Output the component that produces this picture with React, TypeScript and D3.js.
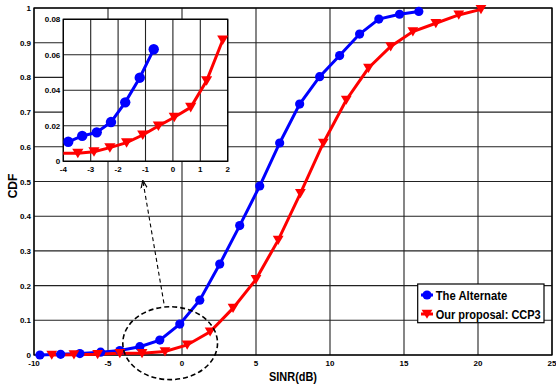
import React from 'react';
import * as d3 from 'd3';

// main curves
const altX = [-9.6, -8.2, -6.9, -5.5, -4.2, -2.85, -1.5, -0.15, 1.2, 2.55, 3.9, 5.25, 6.6, 7.95, 9.3, 10.65, 12.0, 13.3, 14.7, 16.0];
const altY = [0, 0.002, 0.004, 0.008, 0.013, 0.024, 0.043, 0.089, 0.158, 0.262, 0.373, 0.487, 0.611, 0.723, 0.802, 0.863, 0.925, 0.968, 0.982, 0.99];
const ccpX = [-8.8, -7.3, -5.7, -4.2, -2.7, -1.15, 0.35, 1.9, 3.45, 5.0, 6.5, 8.0, 9.55, 11.1, 12.6, 14.1, 15.6, 17.15, 18.7, 20.2];
const ccpY = [0, 0.001, 0.002, 0.005, 0.005, 0.01, 0.029, 0.067, 0.135, 0.218, 0.331, 0.466, 0.611, 0.735, 0.827, 0.889, 0.932, 0.956, 0.98, 0.996];

// zoomed inset
const insetAltX = [-3.82, -3.31, -2.78, -2.26, -1.74, -1.21, -0.7];
const insetAltY = [0.011, 0.0143, 0.0163, 0.0221, 0.0332, 0.0471, 0.0631];
const insetCcpX = [-4.1, -3.47, -2.88, -2.3, -1.69, -1.1, -0.53, 0.05, 0.65, 1.23, 1.82];
const insetCcpY = [0.0046, 0.0045, 0.0054, 0.0077, 0.0105, 0.0148, 0.0199, 0.0248, 0.0304, 0.0454, 0.0683];

const xTicks = [-10, -5, 0, 5, 10, 15, 20, 25];
const yTicks = [0, 0.1, 0.2, 0.3, 0.4, 0.5, 0.6, 0.7, 0.8, 0.9, 1];
const insetXTicks = [-4, -3, -2, -1, 0, 1, 2];
const insetYTicks = [0, 0.02, 0.04, 0.06, 0.08];

const seriesNames = ['The Alternate', 'Our proposal: CCP3'];
const BLUE = '#0000ff';
const RED = '#ff0000';
const FONT = 'Liberation Sans, Arial, sans-serif';

const zip = (xs: number[], ys: number[]) => xs.map((x, i) => [x, ys[i]] as [number, number]);

function tri(cx: number, cy: number, s: number) {
  return `M${cx - s},${cy - s * 0.8}L${cx + s},${cy - s * 0.8}L${cx},${cy + s * 0.9}Z`;
}

export default function App() {
  const W = 556, H = 387;
  const x = d3.scaleLinear().domain([-10, 25]).range([34, 552]);
  const y = d3.scaleLinear().domain([0, 1]).range([355, 8]);
  const ix = d3.scaleLinear().domain([-4, 2]).range([63.3, 227.7]);
  const iy = d3.scaleLinear().domain([0, 0.08]).range([161.3, 19.3]);

  const line = d3.line<[number, number]>().x(d => x(d[0])).y(d => y(d[1]));
  const iline = d3.line<[number, number]>().x(d => ix(d[0])).y(d => iy(d[1]));

  const alt = zip(altX, altY);
  const ccp = zip(ccpX, ccpY);
  const iAlt = zip(insetAltX, insetAltY);
  const iCcp = zip(insetCcpX, insetCcpY);
  const inDom = (d: [number, number]) => d[0] >= -4 && d[0] <= 2;

  // annotation in data units
  const ell = { cx: -0.8, cy: 0.034, rx: 3.2, ry: 0.105 };
  const arrow = { x1: -1.22, y1: 0.149, x2: -2.64, y2: 0.501 };

  const [x0, x1] = x.range();
  const [y0, y1] = y.range();

  return (
    <svg width={W} height={H} style={{ position: 'absolute', left: 0, top: 0, background: '#fff' }}
      fontFamily={FONT} fontWeight="bold">
      <defs>
        <clipPath id="innerClip">
          <rect x={ix(-4)} y={iy(0.08)} width={ix(2) - ix(-4)} height={iy(0) - iy(0.08)} />
        </clipPath>
        <marker id="arr" viewBox="0 0 10 10" refX="9" refY="5" markerWidth="7" markerHeight="7" orient="auto">
          <path d="M0,1L10,5L0,9" fill="none" stroke="#000" strokeWidth="1.6" />
        </marker>
      </defs>
      <rect x={0} y={0} width={W} height={H} fill="#fff" />

      {/* main grid */}
      {xTicks.map(t => (
        <line key={'gx' + t} x1={x(t)} x2={x(t)} y1={y0} y2={y1} stroke="#222" strokeWidth={1.1} />
      ))}
      {yTicks.map(t => (
        <line key={'gy' + t} x1={x0} x2={x1} y1={y(t)} y2={y(t)} stroke="#222" strokeWidth={1.1} />
      ))}
      <rect x={x0} y={y1} width={x1 - x0} height={y0 - y1} fill="none" stroke="#000" strokeWidth={1.3} />

      {/* tick labels */}
      {xTicks.map(t => (
        <text key={'tx' + t} x={x(t)} y={366} fontSize={8} textAnchor="middle">{t}</text>
      ))}
      {yTicks.map(t => (
        <text key={'ty' + t} x={31} y={y(t) + 3} fontSize={8} textAnchor="end">{d3.format('~g')(t)}</text>
      ))}
      <text x={269} y={381} fontSize={12} textLength={48} lengthAdjust="spacingAndGlyphs">SINR(dB)</text>
      <text transform="translate(17,186) rotate(-90)" fontSize={12} textAnchor="middle">CDF</text>

      {/* main curves */}
      <path d={line(alt) || ''} fill="none" stroke={BLUE} strokeWidth={3} />
      <path d={line(ccp) || ''} fill="none" stroke={RED} strokeWidth={3} />
      {alt.map((d, i) => (
        <circle key={'a' + i} cx={x(d[0])} cy={y(d[1])} r={4.6} fill={BLUE} />
      ))}
      {ccp.map((d, i) => (
        <path key={'c' + i} d={tri(x(d[0]), y(d[1]), 5.4)} fill={RED} />
      ))}

      {/* annotation */}
      <ellipse cx={x(ell.cx)} cy={y(ell.cy)} rx={x(ell.cx + ell.rx) - x(ell.cx)} ry={y(0) - y(ell.ry)}
        fill="none" stroke="#000" strokeWidth={1.6} strokeDasharray="5,3" />
      <line x1={x(arrow.x1)} y1={y(arrow.y1)} x2={x(arrow.x2)} y2={y(arrow.y2)} stroke="#000" strokeWidth={1.1}
        strokeDasharray="4,3" markerEnd="url(#arr)" />

      {/* inset */}
      <rect x={ix(-4)} y={iy(0.08)} width={ix(2) - ix(-4)} height={iy(0) - iy(0.08)} fill="#fff" />
      {insetXTicks.map(t => (
        <line key={'igx' + t} x1={ix(t)} x2={ix(t)} y1={iy(0)} y2={iy(0.08)} stroke="#222" strokeWidth={1.1} />
      ))}
      {insetYTicks.map(t => (
        <line key={'igy' + t} x1={ix(-4)} x2={ix(2)} y1={iy(t)} y2={iy(t)} stroke="#222" strokeWidth={1.1} />
      ))}
      <rect x={ix(-4)} y={iy(0.08)} width={ix(2) - ix(-4)} height={iy(0) - iy(0.08)} fill="none" stroke="#000" strokeWidth={1.3} />
      {insetXTicks.map(t => (
        <text key={'itx' + t} x={ix(t)} y={iy(0) + 11} fontSize={8} textAnchor="middle">{t}</text>
      ))}
      {insetYTicks.map(t => (
        <text key={'ity' + t} x={ix(-4) - 3} y={iy(t) + 3} fontSize={8} textAnchor="end">{d3.format('~g')(t)}</text>
      ))}
      <g clipPath="url(#innerClip)">
        <path d={iline(iAlt) || ''} fill="none" stroke={BLUE} strokeWidth={3} />
        <path d={iline(iCcp) || ''} fill="none" stroke={RED} strokeWidth={3} />
        {iAlt.filter(inDom).map((d, i) => (
          <circle key={'ia' + i} cx={ix(d[0])} cy={iy(d[1])} r={5.2} fill={BLUE} />
        ))}
        {iCcp.filter(inDom).map((d, i) => (
          <path key={'ic' + i} d={tri(ix(d[0]), iy(d[1]), 5.6)} fill={RED} />
        ))}
      </g>

      {/* legend */}
      <rect x={417.7} y={284} width={126.3} height={38.7} fill="#fff" stroke="#000" strokeWidth={1.2} />
      <line x1={421} x2={433} y1={295} y2={295} stroke={BLUE} strokeWidth={3} />
      <circle cx={427} cy={295} r={4.6} fill={BLUE} />
      <line x1={421} x2={433} y1={314} y2={314} stroke={RED} strokeWidth={3} />
      <path d={tri(427, 314, 5.4)} fill={RED} />
      <text x={435.7} y={299.5} fontSize={12} textLength={71.5} lengthAdjust="spacingAndGlyphs">{seriesNames[0]}</text>
      <text x={435.7} y={318.5} fontSize={12} textLength={105} lengthAdjust="spacingAndGlyphs">{seriesNames[1]}</text>
    </svg>
  );
}
